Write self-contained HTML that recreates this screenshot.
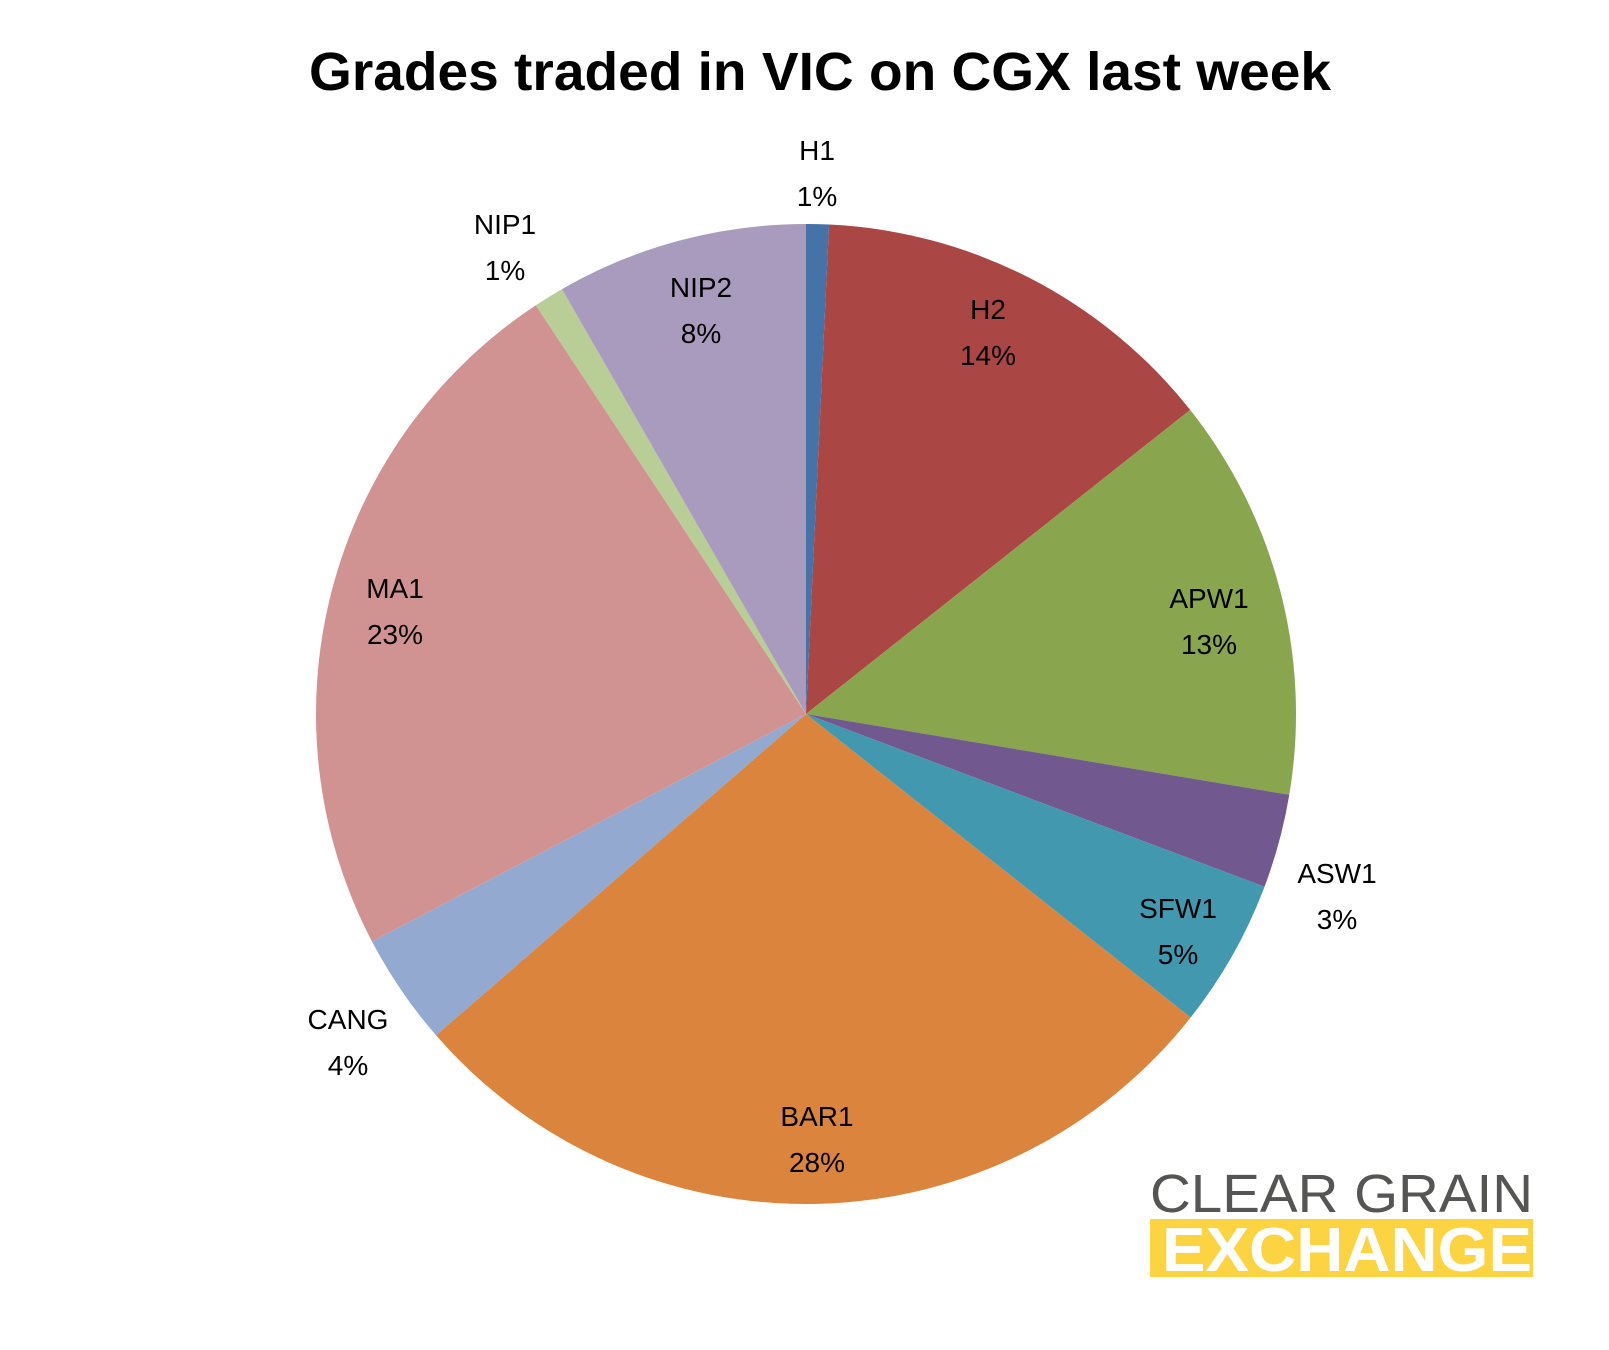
<!DOCTYPE html>
<html><head><meta charset="utf-8"><style>
html,body{margin:0;padding:0;background:#fff;}
svg{display:block;}
</style></head><body>
<svg id="chart" width="1609" height="1350" viewBox="0 0 1609 1350" xmlns="http://www.w3.org/2000/svg">
<text x="820" y="90" text-anchor="middle" font-family="Liberation Sans, sans-serif" font-weight="bold" font-size="54" textLength="1022" lengthAdjust="spacingAndGlyphs">Grades traded in VIC on CGX last week</text>
<g id="slices"></g>
<g id="labels" font-family="Liberation Sans, sans-serif" font-size="28" text-anchor="middle"></g>
<g>
<text x="1150" y="1212" font-family="Liberation Sans, sans-serif" font-size="54" fill="#555553" textLength="383" lengthAdjust="spacingAndGlyphs">CLEAR GRAIN</text>
<rect x="1150" y="1219" width="383" height="58" fill="#FCD340"/>
<text x="1162" y="1271" font-family="Liberation Sans, sans-serif" font-weight="bold" font-size="62" fill="#fff" textLength="370" lengthAdjust="spacingAndGlyphs">EXCHANGE</text>
</g>
</svg>
<script>
const categories = ["H1","H2","APW1","ASW1","SFW1","BAR1","CANG","MA1","NIP1","NIP2"];
const values = [0.75,13.6,13.3,3.1,4.9,28.0,3.7,23.4,1.0,8.3];
const percentLabels = ["1%","14%","13%","3%","5%","28%","4%","23%","1%","8%"];
const colors = ["#4572A7","#AA4643","#89A54E","#71588F","#4198AF","#DB843D","#93A9CF","#D19392","#B9CD96","#A99BBD"];
const labelPos = [[817,150],[988,309],[1209,598],[1337,873],[1178,908],[817,1116],[348,1019],[395,588],[505,224],[701,287]];
const cx = 806, cy = 714, r = 490;
const total = values.reduce((a,b)=>a+b,0);
const NS = "http://www.w3.org/2000/svg";
const gS = document.getElementById('slices');
const gL = document.getElementById('labels');
function pt(a){ return [cx + r*Math.sin(a), cy - r*Math.cos(a)]; }
let acc = 0;
values.forEach((v,i)=>{
  const a0 = acc/total*2*Math.PI; acc += v;
  const a1 = acc/total*2*Math.PI;
  const p0 = pt(a0), p1 = pt(a1);
  const large = (a1-a0) > Math.PI ? 1 : 0;
  const path = document.createElementNS(NS,'path');
  path.setAttribute('d', `M${cx},${cy} L${p0[0]},${p0[1]} A${r},${r} 0 ${large} 1 ${p1[0]},${p1[1]} Z`);
  path.setAttribute('fill', colors[i]);
  
  
  gS.appendChild(path);
  const t = document.createElementNS(NS,'text');
  t.setAttribute('x', labelPos[i][0]);
  t.setAttribute('y', labelPos[i][1] + 10);
  
  
  const s1 = document.createElementNS(NS,'tspan');
  s1.setAttribute('x', labelPos[i][0]);
  s1.textContent = categories[i];
  const s2 = document.createElementNS(NS,'tspan');
  s2.setAttribute('x', labelPos[i][0]);
  s2.setAttribute('dy', '46');
  s2.textContent = percentLabels[i];
  t.appendChild(s1); t.appendChild(s2);
  gL.appendChild(t);
});
</script>
</body></html>
